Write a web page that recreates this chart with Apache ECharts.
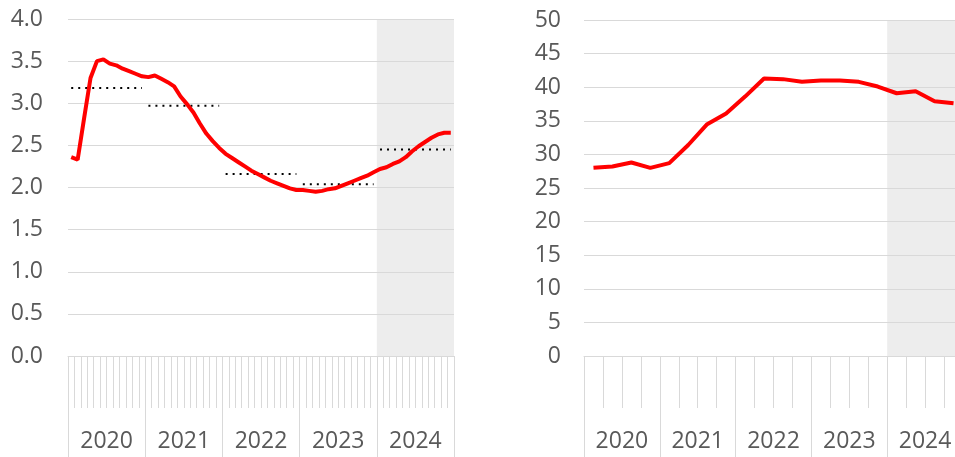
<!DOCTYPE html>
<html>
<head>
<meta charset="utf-8">
<script src="https://cdn.jsdelivr.net/npm/echarts@6/dist/echarts.min.js"></script>
<style>
html, body { margin: 0; padding: 0; background: #fff; }
#chart { width: 955px; height: 457px; }
</style>
</head>
<body>
<div id="chart"></div>
<script>
// data
const years = ['2020', '2021', '2022', '2023', '2024']
const shadedYears = ['2024']

// left panel: monthly values, Jan 2020 .. Dec 2024
const monthlyValues = [
  2.36, 2.33, 2.82, 3.30, 3.50, 3.52, 3.47, 3.45, 3.41, 3.38, 3.35, 3.32,
  3.31, 3.33, 3.29, 3.25, 3.20, 3.08, 2.99, 2.89, 2.76, 2.64, 2.55, 2.47,
  2.40, 2.35, 2.30, 2.25, 2.20, 2.16, 2.12, 2.08, 2.05, 2.02, 1.99, 1.97,
  1.97, 1.96, 1.95, 1.96, 1.98, 1.99, 2.02, 2.05, 2.08, 2.11, 2.14, 2.18,
  2.22, 2.24, 2.28, 2.31, 2.36, 2.43, 2.49, 2.54, 2.59, 2.63, 2.65, 2.65
]
// dotted yearly averages
const yearlyAverages = [3.18, 2.97, 2.16, 2.04, 2.45]

// right panel: quarterly values, Q1 2020 .. Q4 2024
const quarterlyValues = [
  28.0, 28.2, 28.8, 28.0,
  28.7, 31.4, 34.5, 36.1,
  38.6, 41.3, 41.2, 40.8,
  41.0, 41.0, 40.8, 40.1,
  39.1, 39.4, 37.9, 37.6
]

const leftMax = 4
const rightMax = 50

const months = years.flatMap(y => Array.from({ length: 12 }, (_, m) => `${y}-${m + 1}`))
const quarters = years.flatMap(y => [1, 2, 3, 4].map(q => `${y}-Q${q}`))

const grey = '#d9d9d9'
const textColor = '#595959'
const font = 'Open Sans'

function minorAxis(gridIndex, data) {
  return {
    type: 'category',
    gridIndex,
    data,
    position: 'bottom',
    boundaryGap: true,
    axisLine: { show: true, lineStyle: { color: grey, width: 1 } },
    axisTick: { show: true, interval: 0, length: 52, lineStyle: { color: grey, width: 1 } },
    axisLabel: { show: false },
    splitLine: { show: false }
  }
}

function yearAxis(gridIndex) {
  return {
    type: 'category',
    gridIndex,
    data: years,
    position: 'bottom',
    boundaryGap: true,
    axisLine: { show: false },
    axisTick: { show: true, interval: 0, length: 110, lineStyle: { color: grey, width: 1 } },
    axisLabel: { interval: 0, margin: 74, fontSize: 23, color: textColor, fontFamily: font },
    splitLine: { show: false }
  }
}

function valueAxis(gridIndex, max, interval, digits, margin) {
  return {
    type: 'value',
    gridIndex,
    min: 0,
    max,
    interval,
    axisLine: { show: false },
    axisTick: { show: false },
    axisLabel: {
      margin,
      fontSize: 23,
      color: textColor,
      fontFamily: font,
      formatter: v => v.toFixed(digits)
    },
    splitLine: { lineStyle: { color: grey, width: 1 } }
  }
}

function shadeSeries(xAxisIndex, yAxisIndex, max) {
  return {
    type: 'bar',
    xAxisIndex,
    yAxisIndex,
    z: -1,
    barCategoryGap: '0%',
    silent: true,
    itemStyle: { color: '#ededed' },
    data: years.map(y => (shadedYears.includes(y) ? max : null))
  }
}

const averageSeries = yearlyAverages.map((avg, yi) => ({
  type: 'line',
  xAxisIndex: 0,
  yAxisIndex: 0,
  symbol: 'none',
  z: 3,
  lineStyle: { color: '#000', width: 2, type: [2, 5] },
  data: months.map((_, i) => (Math.floor(i / 12) === yi ? avg : null))
}))

const option = {
  animation: false,
  grid: [
    { left: 68, width: 386, top: 19, bottom: 101, outerBoundsMode: 'none' },
    { left: 584, width: 379, top: 20, bottom: 101, outerBoundsMode: 'none' }
  ],
  xAxis: [
    minorAxis(0, months),
    yearAxis(0),
    minorAxis(1, quarters),
    yearAxis(1)
  ],
  yAxis: [
    valueAxis(0, leftMax, 0.5, 1, 25),
    valueAxis(1, rightMax, 5, 0, 23)
  ],
  series: [
    shadeSeries(1, 0, leftMax),
    shadeSeries(3, 1, rightMax),
    {
      type: 'line',
      xAxisIndex: 0,
      yAxisIndex: 0,
      symbol: 'none',
      z: 4,
      lineStyle: { color: '#ff0000', width: 4 },
      data: monthlyValues
    },
    ...averageSeries,
    {
      type: 'line',
      xAxisIndex: 2,
      yAxisIndex: 1,
      symbol: 'none',
      z: 4,
      lineStyle: { color: '#ff0000', width: 4 },
      data: quarterlyValues
    }
  ]
}

const chart = echarts.init(document.getElementById('chart'))
chart.setOption(option)
</script>
</body>
</html>
